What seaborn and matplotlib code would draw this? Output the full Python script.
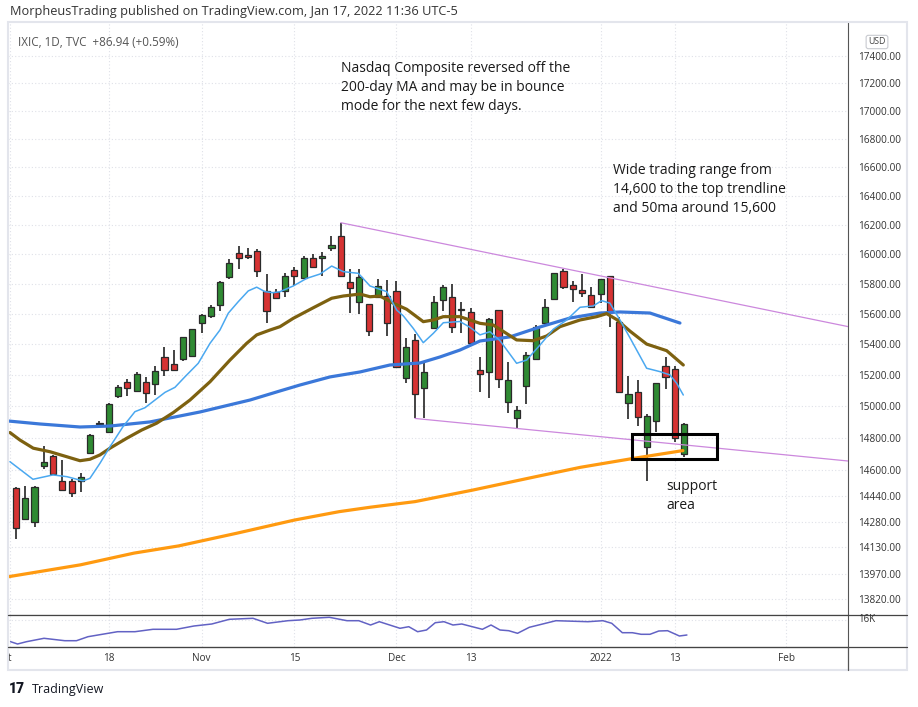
import numpy as np
import pandas as pd
import matplotlib
matplotlib.use("Agg")
import matplotlib.pyplot as plt
import seaborn as sns
from matplotlib.ticker import FixedLocator, NullLocator, FixedFormatter
from matplotlib.patches import Rectangle
from matplotlib.lines import Line2D

# --- daily candles, Oct 4 2021 .. Jan 14 2022
opens = [14488, 14301, 14279, 14622, 14686, 14531, 14529, 14529, 14707, 14884,
         14835, 15066, 15152, 15097, 15152, 15139, 15315, 15269, 15302, 15321,
         15536, 15584, 15657, 15846, 16005, 15993, 16022, 15750, 15746, 15748,
         15890, 15835, 15970, 15970, 16038, 16121, 15808, 15675, 15662, 15708,
         15717, 15750, 15178, 15425, 15113, 15503, 15690, 15712, 15626, 15612,
         15229, 15220, 15623, 15028, 14922, 15130, 15306, 15540, 15695, 15887,
         15789, 15757, 15724, 15728, 15851, 15542, 15018, 15090, 14741, 14907,
         15258, 15236, 14699]
highs = [14492, 14500, 14500, 14749, 14694, 14661, 14541, 14583, 14824, 14903,
         15021, 15134, 15173, 15218, 15188, 15258, 15383, 15360, 15446, 15499,
         15596, 15655, 15817, 15967, 16056, 16040, 16032, 15864, 15762, 15869,
         15914, 15988, 15997, 16013, 16123, 16213, 15897, 15897, 15665, 15829,
         15824, 15819, 15442, 15464, 15276, 15717, 15789, 15796, 15675, 15635,
         15315, 15569, 15625, 15283, 15004, 15348, 15524, 15697, 15871, 15897,
         15817, 15864, 15774, 15831, 15853, 15580, 15193, 15167, 14948, 15150,
         15315, 15258, 14895]
lows = [14179, 14293, 14252, 14608, 14573, 14475, 14435, 14466, 14697, 14878,
        14830, 15049, 15066, 15091, 15019, 15070, 15195, 15230, 15289, 15319,
        15470, 15573, 15619, 15829, 15900, 15963, 15842, 15541, 15700, 15708,
        15783, 15833, 15912, 15853, 16022, 15847, 15602, 15596, 15455, 15706,
        15453, 15247, 15150, 14922, 14922, 15500, 15619, 15475, 15475, 15403,
        15091, 15054, 15117, 14959, 14864, 15015, 15294, 15529, 15693, 15762,
        15679, 15712, 15640, 15669, 15513, 15089, 14916, 14875, 14532, 14835,
        15109, 14776, 14682]
closes = [14245, 14425, 14493, 14647, 14573, 14475, 14456, 14558, 14818, 14893,
          15013, 15120, 15113, 15209, 15081, 15225, 15229, 15232, 15444, 15497,
          15589, 15646, 15808, 15937, 15970, 15979, 15883, 15615, 15702, 15853,
          15849, 15970, 15914, 15988, 16060, 15849, 15768, 15842, 15486, 15781,
          15536, 15249, 15379, 15077, 15216, 15679, 15778, 15509, 15630, 15405,
          15209, 15564, 15172, 15167, 14976, 15331, 15513, 15646, 15869, 15774,
          15762, 15735, 15643, 15829, 15612, 15091, 15079, 14928, 14937, 15146,
          15184, 14797, 14887]

# --- moving averages, read at bar positions
ma10_x = [-0.65, 1.83, 3.99, 5.5, 7.22, 7.97, 9.05, 10.13, 11.53, 12.82, 13.9, 14.98,
          16.06, 17.13, 18.21, 19.64, 20.91, 21.98, 22.88, 23.95, 25.03, 25.94, 26.83,
          27.73, 28.45, 29.88, 31.33, 32.76, 34.02, 35.27, 36.89, 38.15, 39.95, 41.02,
          41.74, 42.81, 43.89, 44.97, 46.05, 47.84, 48.92, 50.0, 51.08, 52.16, 53.95,
          55.03, 56.47, 57.9, 59.34, 60.78, 62.21, 63.11, 64.0, 65.09, 66.29, 67.96,
          69.4, 70.47, 71.2, 71.91]
ma10_y = [14651, 14542, 14569, 14558, 14532, 14548, 14641, 14744, 14870, 14965, 14990, 15039,
          15088, 15120, 15188, 15275, 15405, 15492, 15603, 15679, 15751, 15776, 15746,
          15739, 15746, 15784, 15835, 15864, 15918, 15880, 15869, 15784, 15746, 15624,
          15585, 15503, 15409, 15470, 15540, 15548, 15510, 15460, 15481, 15422, 15275,
          15296, 15394, 15497, 15558, 15642, 15651, 15686, 15670, 15558, 15427, 15243,
          15221, 15200, 15146, 15071]
ma20_x = [-0.65, 0.43, 1.86, 3.66, 5.46, 6.9, 7.97, 9.05, 10.13, 11.93, 13.55, 15.16,
          16.95, 18.75, 20.91, 23.06, 24.86, 25.94, 27.37, 28.45, 29.88, 32.04, 34.02,
          35.27, 37.07, 38.15, 39.22, 40.66, 42.1, 43.89, 44.97, 46.05, 47.84, 50.0,
          51.43, 53.95, 55.74, 57.19, 58.62, 60.78, 62.58, 63.65, 64.73, 66.16, 67.96,
          70.12, 71.91]
ma20_y = [14833, 14786, 14735, 14713, 14682, 14657, 14666, 14693, 14735, 14797, 14849, 14892,
          14959, 15039, 15156, 15296, 15405, 15460, 15492, 15514, 15569, 15639, 15702,
          15717, 15730, 15712, 15717, 15669, 15629, 15547, 15558, 15580, 15580, 15536,
          15525, 15427, 15422, 15453, 15514, 15558, 15580, 15600, 15561, 15485, 15400,
          15357, 15264]
ma50_x = [-0.86, 2.59, 6.9, 10.13, 14.44, 19.83, 25.22, 28.45, 30.6, 33.84, 37.07,
          40.3, 43.53, 45.69, 47.84, 50.0, 53.23, 56.47, 59.7, 62.93, 65.09, 68.32, 71.55]
ma50_y = [14906, 14887, 14868, 14874, 14900, 14963, 15039, 15097, 15135, 15187, 15219,
          15264, 15277, 15316, 15361, 15420, 15447, 15512, 15571, 15604, 15611, 15604, 15538]
ma200_x = [-0.77, 6.94, 12.72, 17.52, 23.77, 30.02, 34.84, 38.2, 43.0, 49.25, 56.0,
           60.82, 66.59, 71.87]
ma200_y = [13954, 14024, 14094, 14137, 14213, 14293, 14344, 14371, 14405, 14476, 14558,
           14616, 14672, 14720]

# lower pane line (thousands)
ind_x = [-0.58, 0.17, 1.13, 3.02, 5.25, 6.52, 7.76, 10.95, 12.82, 14.76, 17.3, 19.18,
         21.1, 23.0, 25.54, 27.11, 29.31, 30.6, 31.88, 33.77, 35.67, 36.94, 38.21, 39.16,
         41.38, 42.33, 43.28, 44.24, 45.18, 46.12, 47.09, 48.04, 50.26, 51.19, 52.16,
         53.1, 54.05, 55.32, 58.19, 61.64, 63.25, 64.2, 65.34, 66.42, 67.37, 68.32,
         69.27, 70.22, 71.49, 72.3]
ind_y = [13.83, 13.6, 13.83, 14.17, 13.93, 13.93, 14.33, 14.83, 14.83, 15.07, 15.07, 15.4,
         15.6, 16.07, 16.17, 15.67, 15.93, 16.0, 16.17, 16.27, 15.93, 15.93, 15.5, 15.83,
         15.17, 15.33, 14.83, 15.0, 15.73, 15.83, 15.5, 15.6, 15.07, 15.5, 15.0,
         14.93, 14.67, 15.27, 15.93, 15.83, 15.93, 15.67, 14.73, 14.73, 14.57, 14.57,
         14.9, 14.93, 14.4, 14.5]

# trendlines and support box
upper_tl_x = [35, 89.7]
upper_tl_y = [16213, 15514]
lower_tl_x = [43, 89.7]
lower_tl_y = [14922, 14655]
box_x = [66.4, 75.5]
box_y = [14667, 14826]

price_ticks = [17400, 17200, 17000, 16800, 16600, 16400, 16200, 16000, 15800, 15600,
               15400, 15200, 15000, 14800, 14600, 14440, 14280, 14130, 13970, 13820]
date_pos = [-0.65, 10, 20, 30, 41, 49, 63, 71, 83]
date_labels = ["t", "18", "Nov", "15", "Dec", "13", "2022", "13", "Feb"]

sns.set_style("white")
plt.rcParams["font.family"] = ["Open Sans", "DejaVu Sans"]

W, H = 918, 707
fig = plt.figure(figsize=(W / 100, H / 100), dpi=100)

def fx(x):
    return x / W

def fy(y):
    return 1 - y / H

ax = fig.add_axes([fx(8), fy(615), (848 - 8) / W, (615 - 22) / H])
ax2 = fig.add_axes([fx(8), fy(647), (848 - 8) / W, (647 - 615) / H], sharex=ax)

df = pd.DataFrame({"o": opens, "h": highs, "l": lows, "c": closes})
df["i"] = np.arange(len(df))
up = df["c"] >= df["o"]
cols = np.where(up, "#2f8a33", "#d63333")

ax.vlines(df["i"], df["l"], df["h"], color="#111111", linewidth=1.1, zorder=2)
ax.bar(df["i"], (df["c"] - df["o"]).abs().clip(lower=4), bottom=df[["o", "c"]].min(axis=1),
       width=0.66, color=cols, edgecolor="#2a2a2a", linewidth=0.9, zorder=3)

sns.lineplot(x=ma200_x, y=ma200_y, ax=ax, color="#ff9a10", linewidth=2.3, zorder=4)
sns.lineplot(x=ma50_x, y=ma50_y, ax=ax, color="#3b78d9", linewidth=2.3, zorder=4)
sns.lineplot(x=ma20_x, y=ma20_y, ax=ax, color="#7d6110", linewidth=2.3, zorder=4)
sns.lineplot(x=ma10_x, y=ma10_y, ax=ax, color="#4aa8f0", linewidth=1.1, zorder=4)
ax.plot(upper_tl_x, upper_tl_y, color="#cc88dd", linewidth=0.9, zorder=4)
ax.plot(lower_tl_x, lower_tl_y, color="#cc88dd", linewidth=0.9, zorder=4)
ax.add_patch(Rectangle((box_x[0], box_y[0]), box_x[1] - box_x[0], box_y[1] - box_y[0],
                       fill=False, edgecolor="black", linewidth=2.2, zorder=6))

ax.set_yscale("log")
ax.set_ylim(13729, 17653)
ax.set_xlim(-0.86, 89.66)
ax.yaxis.set_major_locator(FixedLocator(price_ticks))
ax.yaxis.set_major_formatter(FixedFormatter([f"{p:.2f}" for p in price_ticks]))
ax.yaxis.set_minor_locator(NullLocator())
ax.yaxis.tick_right()
ax.tick_params(axis="y", length=0, pad=7.2, labelsize=7.2, labelcolor="#333333")
ax.xaxis.set_major_locator(FixedLocator(date_pos))
ax.tick_params(axis="x", length=0, labelbottom=False)
ax.set_xlabel("")
ax.set_ylabel("")
grid_kw = dict(color="#dfe1e8", linestyle=(0, (1, 2)), linewidth=0.8)
ax.grid(True, **grid_kw)
ax.set_axisbelow(True)
for s in ["top", "left"]:
    ax.spines[s].set_visible(False)
ax.spines["right"].set_color("#555555")
ax.spines["bottom"].set_color("#444444")

sns.lineplot(x=ind_x, y=ind_y, ax=ax2, color="#6262c4", linewidth=1.1)
ax2.set_ylim(13.3, 16.5)
ax2.yaxis.set_major_locator(FixedLocator([16]))
ax2.yaxis.set_major_formatter(FixedFormatter([""]))
ax2.yaxis.tick_right()
ax2.tick_params(axis="y", length=0)
ax2.xaxis.set_major_formatter(FixedFormatter(date_labels))
ax2.tick_params(axis="x", length=0, pad=4.5, labelsize=7.2, labelcolor="#333333")
ax2.grid(True, **grid_kw)
ax2.set_axisbelow(True)
ax2.set_xlabel("")
ax2.set_ylabel("")
for s in ["top", "left"]:
    ax2.spines[s].set_visible(False)
ax2.spines["right"].set_color("#555555")
ax2.spines["bottom"].set_color("#444444")

# frame and separators
fig.add_artist(Rectangle((fx(8), fy(670)), (907 - 8) / W, (670 - 22) / H, transform=fig.transFigure,
                         fill=False, edgecolor="#e3e5ec", linewidth=1.5))
for yy in [615, 647]:
    fig.add_artist(Line2D([fx(8), fx(907)], [fy(yy), fy(yy)], color="#444444", linewidth=0.9))
fig.add_artist(Line2D([fx(848), fx(848)], [fy(647), fy(670)], color="#555555", linewidth=0.9))

fig.text(fx(858), fy(620), "16K", fontsize=7, color="#333333", va="center")
fig.text(fx(877), fy(42), "USD", fontsize=6.3, color="#444444", ha="center", va="center",
         bbox=dict(boxstyle="round,pad=0.25", fc="white", ec="#c8cad0", lw=0.8))

fig.text(fx(10), fy(12), "MorpheusTrading published on TradingView.com, Jan 17, 2022 11:36 UTC-5",
         fontsize=9.2, color="#333333", va="center")
fig.text(fx(18), fy(42), "IXIC, 1D, TVC  +86.94 (+0.59%)", fontsize=8.4, color="#555555", va="center")

note1 = ["Nasdaq Composite reversed off the", "200-day MA and may be in bounce",
         "mode for the next few days."]
note2 = ["Wide trading range from", "14,600 to the top trendline", "and 50ma around 15,600"]
note3 = ["support", "area"]
for lines, x0, y0 in [(note1, 341, 68), (note2, 613, 170), (note3, 666, 486)]:
    for k, t in enumerate(lines):
        fig.text(fx(x0), fy(y0 + 19.5 * k), t, fontsize=10, color="#1a1a1a", va="center")

fig.text(fx(9), fy(689), "17", fontsize=10, fontweight="black", color="#131722", va="center",
         family="Roboto")
fig.text(fx(32), fy(689), "TradingView", fontsize=9, color="#131722", va="center")

fig.savefig("out.png", dpi=100, facecolor="white")
